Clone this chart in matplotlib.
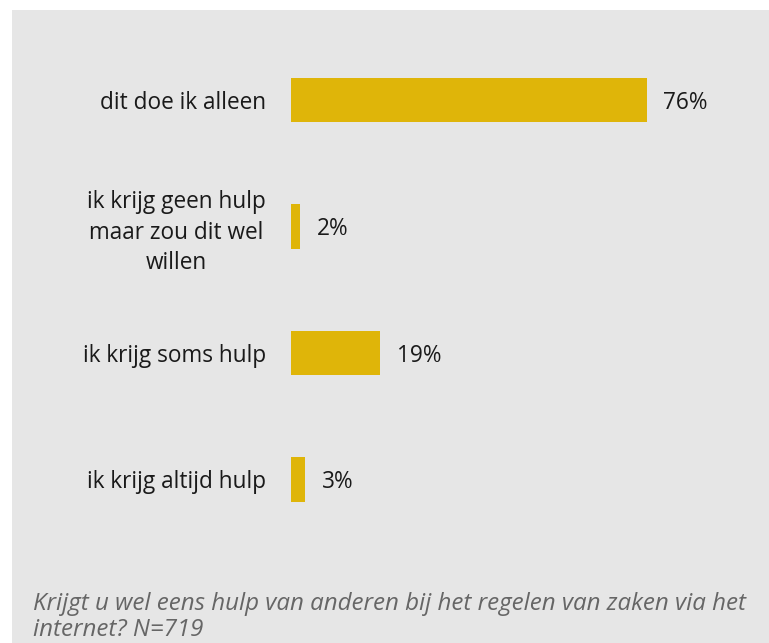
import matplotlib
matplotlib.use("Agg")
import matplotlib.pyplot as plt
from matplotlib.patches import Rectangle

categories = ["dit doe ik alleen",
              "ik krijg geen hulp\nmaar zou dit wel\nwillen",
              "ik krijg soms hulp",
              "ik krijg altijd hulp"]
values = [76, 2, 19, 3]
value_labels = ["76%", "2%", "19%", "3%"]
caption = "Krijgt u wel eens hulp van anderen bij het regelen van zaken via het\ninternet? N=719"

plt.rcParams['font.family'] = ['Open Sans', 'DejaVu Sans']

W, H = 769, 643
fig = plt.figure(figsize=(W / 100, H / 100), dpi=100)
fig.patch.set_facecolor("white")
fig.patches.append(Rectangle((12 / W, 0), 1 - 12 / W, 1 - 10 / H,
                             transform=fig.transFigure, facecolor="#e6e6e6",
                             edgecolor="none", zorder=-10))

ax = fig.add_axes([291 / W, 1 - 542.75 / H, 468 / W, 506 / H])
ax.set_facecolor("none")
ax.set_zorder(5)
ypos = list(range(len(categories)))
ax.barh(ypos, values, height=0.35, color="#dfb509", edgecolor="none")
ax.set_xlim(0, 100)
ax.set_ylim(len(categories) - 0.5, -0.5)
ax.set_yticks(ypos)
ax.set_yticklabels(categories, fontsize=16.3, color="#1a1a1a", multialignment="center",
                   linespacing=1.35)
ax.tick_params(axis="y", length=0, pad=18)
ax.set_xticks([])
for s in ax.spines.values():
    s.set_visible(False)
for y, v, lab in zip(ypos, values, value_labels):
    ax.annotate(lab, (v, y), xytext=(12, -2), textcoords="offset points",
                va="center", ha="left", fontsize=16.3, color="#1a1a1a")

fig.text(33 / W, 1 - 617 / H, caption, fontsize=17.4, style="italic",
         color="#666666", va="center", ha="left", linespacing=1.12, zorder=6)

fig.savefig("out.png", dpi=100)
